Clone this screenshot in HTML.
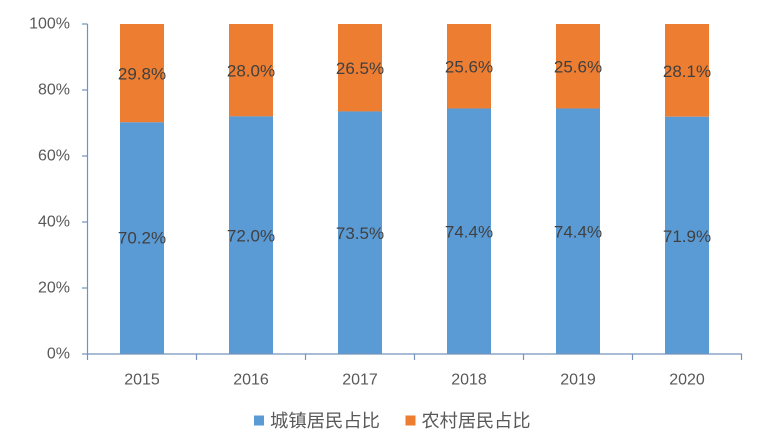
<!DOCTYPE html>
<html>
<head>
<meta charset="utf-8">
<style>
html,body{margin:0;padding:0;background:#fff;}
svg{display:block;}
text{font-family:"Liberation Sans","Noto Sans CJK SC",sans-serif;}
</style>
</head>
<body>
<svg width="776" height="441" viewBox="0 0 776 441" xmlns="http://www.w3.org/2000/svg">
<rect width="776" height="441" fill="#fff"/>
<g>
<rect x="120" y="24" width="44" height="98.34" fill="#ED7D31"/>
<rect x="120" y="122.34" width="44" height="231.66" fill="#5B9BD5"/>
<rect x="229" y="24" width="44" height="92.4" fill="#ED7D31"/>
<rect x="229" y="116.4" width="44" height="237.6" fill="#5B9BD5"/>
<rect x="338" y="24" width="44" height="87.45" fill="#ED7D31"/>
<rect x="338" y="111.45" width="44" height="242.55" fill="#5B9BD5"/>
<rect x="447" y="24" width="44" height="84.48" fill="#ED7D31"/>
<rect x="447" y="108.48" width="44" height="245.52" fill="#5B9BD5"/>
<rect x="556" y="24" width="44" height="84.48" fill="#ED7D31"/>
<rect x="556" y="108.48" width="44" height="245.52" fill="#5B9BD5"/>
<rect x="665" y="24" width="44" height="92.73" fill="#ED7D31"/>
<rect x="665" y="116.73" width="44" height="237.27" fill="#5B9BD5"/>
</g>
<g stroke="#7393BE" stroke-width="1.2" fill="none">
<line x1="87.5" y1="24" x2="87.5" y2="354"/>
<line x1="87.5" y1="354" x2="742" y2="354"/>
<line x1="82" y1="24" x2="87.5" y2="24"/>
<line x1="82" y1="90" x2="87.5" y2="90"/>
<line x1="82" y1="156" x2="87.5" y2="156"/>
<line x1="82" y1="222" x2="87.5" y2="222"/>
<line x1="82" y1="288" x2="87.5" y2="288"/>
<line x1="82" y1="354" x2="87.5" y2="354"/>
<line x1="87.5" y1="354" x2="87.5" y2="360"/>
<line x1="196.5" y1="354" x2="196.5" y2="360"/>
<line x1="305.5" y1="354" x2="305.5" y2="360"/>
<line x1="414.5" y1="354" x2="414.5" y2="360"/>
<line x1="523.5" y1="354" x2="523.5" y2="360"/>
<line x1="632.5" y1="354" x2="632.5" y2="360"/>
<line x1="741.5" y1="354" x2="741.5" y2="360"/>
</g>
<g font-size="16" fill="#595959" text-anchor="end" dominant-baseline="central">
<text x="70" y="24">100%</text>
<text x="70" y="90">80%</text>
<text x="70" y="156">60%</text>
<text x="70" y="222">40%</text>
<text x="70" y="288">20%</text>
<text x="70" y="354">0%</text>
</g>
<g font-size="16" fill="#595959" text-anchor="middle" dominant-baseline="central">
<text x="142" y="380">2015</text>
<text x="251" y="380">2016</text>
<text x="360" y="380">2017</text>
<text x="469" y="380">2018</text>
<text x="578" y="380">2019</text>
<text x="687" y="380">2020</text>
</g>
<g font-size="17" fill="#404040" text-anchor="middle" dominant-baseline="central">
<text x="142" y="74">29.8%</text>
<text x="142" y="238">70.2%</text>
<text x="251" y="71">28.0%</text>
<text x="251" y="236">72.0%</text>
<text x="360" y="68.5">26.5%</text>
<text x="360" y="233.5">73.5%</text>
<text x="469" y="67">25.6%</text>
<text x="469" y="232">74.4%</text>
<text x="578" y="67">25.6%</text>
<text x="578" y="232">74.4%</text>
<text x="687" y="71.5">28.1%</text>
<text x="687" y="236.5">71.9%</text>
</g>
<rect x="254" y="415.5" width="10" height="10" fill="#5B9BD5"/>
<text x="270" y="421" font-size="18" fill="#595959" dominant-baseline="central" textLength="110" lengthAdjust="spacingAndGlyphs">城镇居民占比</text>
<rect x="405.5" y="415.5" width="10" height="10" fill="#ED7D31"/>
<text x="421.5" y="421" font-size="18" fill="#595959" dominant-baseline="central" textLength="109" lengthAdjust="spacingAndGlyphs">农村居民占比</text>
</svg>
</body>
</html>
